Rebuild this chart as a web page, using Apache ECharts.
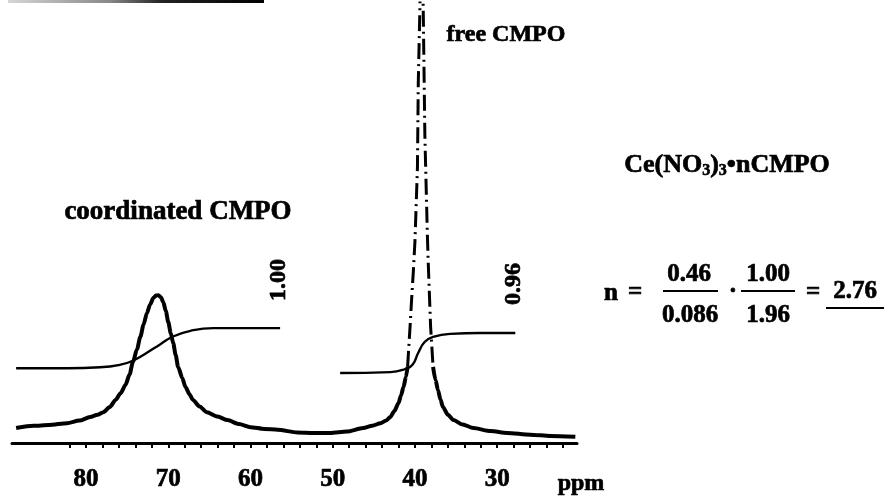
<!DOCTYPE html>
<html>
<head>
<meta charset="utf-8">
<script src="https://cdn.jsdelivr.net/npm/echarts@6/dist/echarts.min.js"></script>
<style>
html,body{margin:0;padding:0;background:#fff;}
#c{width:889px;height:502px;}
</style>
</head>
<body>
<div id="c"></div>
<script>
// ---- data (ppm, relative intensity) ----
const specPpm = [88.5, 86.4, 84.5, 82.3, 80.8, 79.5, 78.6, 77.9, 77.1, 76.4, 75.8, 75.2, 74.7, 74.3, 73.8, 73.4, 73.0, 72.6, 72.2, 71.8, 71.5, 71.2, 70.9, 70.6, 70.3, 70.0, 69.7, 69.4, 69.1, 68.8, 68.3, 67.9, 67.4, 67.0, 66.2, 65.3, 64.0, 62.8, 61.4, 60.0, 58.3, 56.7, 54.3, 52.3, 50.3, 48.3, 46.3, 45.2, 44.2, 43.5, 43.0, 42.5, 42.0, 41.7, 41.4, 41.1, 40.9, 40.6, 40.4, 40.2, 40.0, 39.7, 39.6, 39.4, 39.25, 39.0, 38.8, 38.5, 38.4, 38.1, 37.8, 37.5, 37.2, 36.9, 36.6, 36.0, 35.3, 34.2, 32.9, 30.8, 28.8, 26.0, 23.5, 20.5];
const specInt = [3.4, 3.9, 4.1, 4.5, 5.1, 5.9, 6.4, 7.0, 8.2, 9.8, 11.3, 13.2, 15.6, 18.4, 21.3, 24.1, 26.9, 29.5, 31.5, 33.0, 33.5, 33.6, 33.1, 32.0, 30.0, 27.5, 25.0, 22.7, 20.0, 17.3, 14.8, 12.7, 11.0, 9.8, 8.3, 7.0, 6.0, 5.2, 4.3, 3.6, 3.2, 3.0, 2.4, 2.3, 2.3, 2.6, 3.4, 3.9, 4.5, 5.1, 5.9, 7.3, 9.1, 10.8, 12.7, 15.0, 17.3, 26.4, 33.0, 39.0, 46.0, 62.7, 81.8, 99.0, 115.0, 99.0, 70.0, 47.7, 41.6, 26.4, 17.3, 14.3, 12.0, 9.9, 8.2, 6.4, 5.2, 4.2, 3.4, 2.7, 2.3, 1.9, 1.6, 1.4];

// dashed (overflowing) part of the free CMPO peak
const dashFrom = 40.9, dashTo = 37.8;

// integral of coordinated CMPO signal
const int1Ppm = [88.5, 82.3, 78.3, 75.8, 74.3, 72.6, 71.0, 69.4, 67.3, 64.5, 56.4];
const int1Val = [17.0, 17.0, 17.2, 17.8, 18.7, 20.5, 22.4, 24.2, 25.5, 26.1, 26.1];
// integral of free CMPO signal
const int2Ppm = [49.1, 43.0, 41.2, 40.3, 39.6, 38.8, 37.8, 35.7, 32.1, 27.8];
const int2Val = [15.9, 16.1, 16.8, 17.8, 20.5, 23.0, 24.1, 24.8, 25.0, 25.0];

// axis
const xMin = 20.3, xMax = 89;
const tickLabels = [80, 70, 60, 50, 40, 30];
const tickMarks = [82, 80, 78, 76, 74, 72, 70, 68, 66, 64, 62, 60, 58, 56, 54, 52, 50, 48, 46, 44, 42, 40, 38, 36, 34, 32, 30, 28, 26, 24, 22];

// ---- build ----
const solid = specPpm.map((p, i) => (p < dashFrom && p > dashTo) ? [p, '-'] : [p, specInt[i]]);
const dashed = specPpm.map((p, i) => [p, specInt[i]]).filter(d => d[0] <= dashFrom && d[0] >= dashTo);
const int1 = int1Ppm.map((p, i) => [p, int1Val[i]]);
const int2 = int2Ppm.map((p, i) => [p, int2Val[i]]);

const FF = '"Liberation Serif", "Times New Roman", serif';
const font = (s) => 'bold ' + s + 'px ' + FF;

function txt(text, x, y, size, extra) {
  return Object.assign({
    type: 'text', x: x, y: y, z: 100,
    style: { text: text, font: font(size), fill: '#000', stroke: '#000', lineWidth: 0.7,
      textAlign: 'center', textVerticalAlign: 'middle', align: 'center', verticalAlign: 'middle' }
  }, extra || {});
}
function hline(x1, x2, y, w) {
  return { type: 'line', z: 100, shape: { x1: x1, y1: y, x2: x2, y2: y }, style: { stroke: '#000', lineWidth: w || 2 } };
}

const chart = echarts.init(document.getElementById('c'), null, { renderer: 'canvas' });
chart.setOption({
  backgroundColor: '#fff',
  animation: false,
  grid: { left: 12, width: 565, top: 3, height: 440 },
  xAxis: {
    type: 'value', inverse: true, min: xMin, max: xMax,
    axisLine: { show: true, onZero: false, lineStyle: { color: '#000', width: 3 } },
    axisTick: { show: true, inside: false, length: 5, customValues: tickMarks, lineStyle: { color: '#000', width: 2 } },
    axisLabel: { show: true, customValues: tickLabels, margin: 24, color: '#000', fontSize: 25, fontWeight: 'bold', fontFamily: FF,
      textBorderColor: '#000', textBorderWidth: 0.7 },
    splitLine: { show: false }
  },
  yAxis: { type: 'value', min: 0, max: 100, show: false },
  series: [
    { type: 'line', data: solid, showSymbol: false, connectNulls: false, clip: true, smooth: 0.25, smoothMonotone: 'x',
      lineStyle: { color: '#000', width: 4 }, z: 3 },
    { type: 'line', data: dashed, showSymbol: false, clip: true,
      lineStyle: { color: '#000', width: 3, type: [16, 5, 2, 5] }, z: 3 },
    { type: 'line', data: int1, showSymbol: false, smooth: 0.5, clip: true,
      lineStyle: { color: '#000', width: 2.4 }, z: 2 },
    { type: 'line', data: int2, showSymbol: false, smooth: 0.5, clip: true,
      lineStyle: { color: '#000', width: 2.4 }, z: 2 }
  ],
  graphic: [
    { type: 'line', z: 100, shape: { x1: 8, y1: 1.5, x2: 264, y2: 1.5 },
      style: { lineWidth: 3, stroke: new echarts.graphic.LinearGradient(0, 0, 1, 0, [
        { offset: 0, color: '#d8d8d8' }, { offset: 0.4, color: '#888' }, { offset: 0.6, color: '#222' }, { offset: 1, color: '#000' }]) } },
    txt('coordinated CMPO', 178, 212, 27),
    txt('free CMPO', 506, 35, 24),
    txt('1.00', 279, 280, 24, { rotation: Math.PI / 2 }),
    txt('0.96', 514, 284, 24, { rotation: Math.PI / 2 }),
    {
      type: 'text', x: 727, y: 165, z: 100,
      style: {
        text: '{a|Ce(NO}{s|3}{a|)}{s|3}{a|•nCMPO}',
        textAlign: 'center', textVerticalAlign: 'middle', align: 'center', verticalAlign: 'middle',
        rich: {
          a: { font: font(26), fill: '#000', stroke: '#000', lineWidth: 0.7 },
          s: { font: font(16), fill: '#000', stroke: '#000', lineWidth: 0.6, padding: [11, 0, 0, 0] }
        }
      }
    },
    txt('n', 611, 294, 25),
    txt('=', 635, 293, 25),
    txt('0.46', 689, 275, 25),
    hline(663, 718, 291, 2),
    txt('0.086', 690, 316, 25),
    txt('·', 733, 292, 25),
    txt('1.00', 768, 275, 25),
    hline(741, 795, 291, 2),
    txt('1.96', 768, 316, 25),
    txt('=', 813, 293, 25),
    txt('2.76', 855, 292, 25),
    hline(826, 884, 308, 2),
    txt('ppm', 581, 484, 24)
  ]
});
</script>
</body>
</html>
